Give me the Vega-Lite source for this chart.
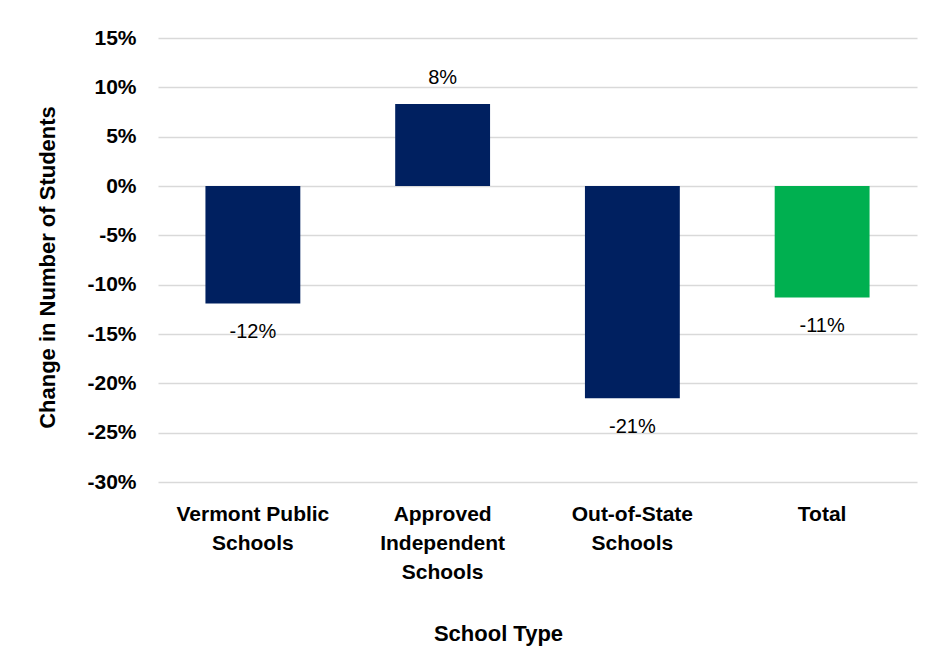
{
  "$schema": "https://vega.github.io/schema/vega-lite/v6.json",
  "width": 759,
  "height": 444,
  "autosize": {"type": "none"},
  "padding": {"left": 158, "top": 38, "right": 17, "bottom": 174},
  "background": "white",
  "config": {
    "view": {"stroke": null},
    "font": "Liberation Sans"
  },
  "data": {
    "values": [
      {"school": "Vermont Public Schools", "change": -11.9, "label": "-12%"},
      {"school": "Approved Independent Schools", "change": 8.3, "label": "8%"},
      {"school": "Out-of-State Schools", "change": -21.5, "label": "-21%"},
      {"school": "Total", "change": -11.3, "label": "-11%"}
    ]
  },
  "encoding": {
    "x": {
      "field": "school",
      "type": "nominal",
      "sort": null,
      "scale": {"paddingInner": 0.5, "paddingOuter": 0.25},
      "axis": {
        "title": "School Type",
        "titleFont": "Liberation Sans",
        "titleFontSize": 22,
        "titleFontWeight": "bold",
        "titleColor": "#000000",
        "titleX": 340,
        "titleY": 151,
        "titleBaseline": "middle",
        "labelAngle": 0,
        "labelFont": "Liberation Sans",
        "labelFontSize": 21,
        "labelFontWeight": "bold",
        "labelColor": "#000000",
        "labelBaseline": "top",
        "labelPadding": 21,
        "labelLineHeight": 29,
        "labelLimit": 300,
        "labelExpr": "datum.value == 'Vermont Public Schools' ? ['Vermont Public', 'Schools'] : datum.value == 'Approved Independent Schools' ? ['Approved', 'Independent', 'Schools'] : datum.value == 'Out-of-State Schools' ? ['Out-of-State', 'Schools'] : datum.value",
        "ticks": false,
        "domain": false,
        "grid": false
      }
    }
  },
  "layer": [
    {
      "mark": {"type": "bar"},
      "encoding": {
        "y": {
          "field": "change",
          "type": "quantitative",
          "scale": {"domain": [-30, 15], "nice": false},
          "axis": {
            "title": "Change in Number of Students",
            "titleFont": "Liberation Sans",
            "titleFontSize": 22,
            "titleFontWeight": "bold",
            "titleColor": "#000000",
            "titleAngle": -90,
            "titleX": -111,
            "titleY": 229,
            "titleBaseline": "middle",
            "titleAlign": "center",
            "values": [-30, -25, -20, -15, -10, -5, 0, 5, 10, 15],
            "labelExpr": "datum.value + '%'",
            "labelFont": "Liberation Sans",
            "labelFontSize": 21,
            "labelFontWeight": "bold",
            "labelColor": "#000000",
            "labelPadding": 22,
            "ticks": false,
            "domain": false,
            "grid": true,
            "gridColor": "#d9d9d9",
            "gridWidth": 1.5
          }
        },
        "color": {
          "field": "school",
          "type": "nominal",
          "scale": {
            "domain": ["Vermont Public Schools", "Approved Independent Schools", "Out-of-State Schools", "Total"],
            "range": ["#002060", "#002060", "#002060", "#00b050"]
          },
          "legend": null
        }
      }
    },
    {
      "mark": {"type": "rule", "color": "#000000", "strokeWidth": 1.5},
      "encoding": {"y": {"datum": 0, "type": "quantitative"}}
    },
    {
      "transform": [{"filter": "datum.change >= 0"}],
      "mark": {"type": "text", "font": "Liberation Sans", "fontSize": 20, "color": "#000000", "baseline": "middle", "dy": -26},
      "encoding": {
        "y": {"field": "change", "type": "quantitative"},
        "text": {"field": "label"}
      }
    },
    {
      "transform": [{"filter": "datum.change < 0"}],
      "mark": {"type": "text", "font": "Liberation Sans", "fontSize": 20, "color": "#000000", "baseline": "middle", "dy": 29},
      "encoding": {
        "y": {"field": "change", "type": "quantitative"},
        "text": {"field": "label"}
      }
    }
  ]
}
